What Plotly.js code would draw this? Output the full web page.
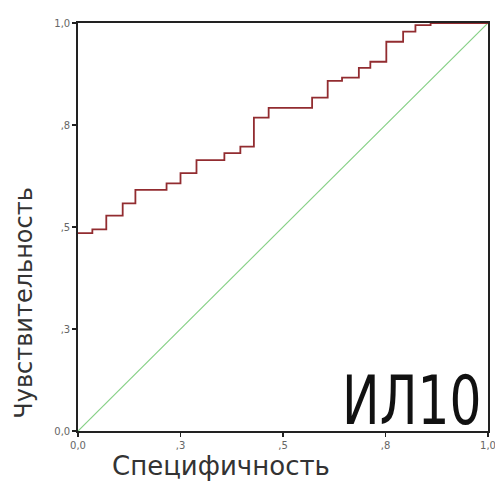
<!DOCTYPE html>
<html>
<head>
<meta charset="utf-8">
<script src="https://cdn.plot.ly/plotly-3.0.1.min.js"></script>
<style>body{margin:0;background:#fff}#chart{width:495px;height:483px}</style>
</head>
<body>
<div id="chart"></div>
<script>
// ROC curve points (1 - specificity, sensitivity)
var rocX = [0, 0.035, 0.069, 0.109, 0.140, 0.216, 0.250, 0.289, 0.357, 0.396, 0.429, 0.465, 0.571, 0.609, 0.644, 0.685, 0.713, 0.752, 0.793, 0.823, 0.860, 1.0];
var rocY = [0.485, 0.494, 0.528, 0.558, 0.591, 0.607, 0.632, 0.664, 0.681, 0.697, 0.768, 0.792, 0.817, 0.858, 0.866, 0.890, 0.905, 0.954, 0.979, 0.995, 1.0, 1.0];
var refX = [0, 1];
var refY = [0, 1];
var tickVals = [0, 0.25, 0.5, 0.75, 1];
var tickText = ['0,0', ',3', ',5', ',8', '1,0'];
var xTitle = 'Специфичность';
var yTitle = 'Чувствительность';
var label = 'ИЛ10';

var traces = [
  {x: refX, y: refY, mode: 'lines', line: {color: '#86d086', width: 1.2}, hoverinfo: 'skip'},
  {x: rocX, y: rocY, mode: 'lines', line: {color: '#922c30', width: 1.8, shape: 'hv'}}
];
var axisCommon = {
  range: [0, 1], tickvals: tickVals, ticktext: tickText,
  showgrid: false, zeroline: false, showline: true, mirror: true,
  linecolor: '#222', linewidth: 1.8, ticks: 'outside', ticklen: 4, tickwidth: 1.5, tickcolor: '#222',
  ticklabeloverflow: 'allow',
  tickfont: {family: 'DejaVu Sans', size: 10, color: '#666'}, fixedrange: true
};
var layout = {
  width: 495, height: 483,
  margin: {l: 78, r: 7, t: 23, b: 52},
  paper_bgcolor: '#fff', plot_bgcolor: '#fff',
  showlegend: false,
  xaxis: Object.assign({}, axisCommon),
  yaxis: Object.assign({}, axisCommon),
  annotations: [
    {xref: 'paper', yref: 'paper', x: 0.348, y: -0.086, text: xTitle, showarrow: false,
     xanchor: 'center', yanchor: 'middle', font: {family: 'DejaVu Sans', size: 26, color: '#333'}},
    {xref: 'paper', yref: 'paper', x: -0.132, y: 0.314, text: yTitle, showarrow: false, textangle: -90,
     xanchor: 'center', yanchor: 'middle', font: {family: 'DejaVu Sans', size: 24, color: '#333'}},
    {xref: 'paper', yref: 'paper', x: 0.99, y: 0.074, text: label, showarrow: false,
     xanchor: 'right', yanchor: 'middle', font: {family: 'DejaVu Sans', size: 68, color: '#111'}}
  ]
};
Plotly.newPlot('chart', traces, layout, {displayModeBar: false, staticPlot: true}).then(function () {
  var texts = document.querySelectorAll('.annotation-text');
  texts.forEach(function (t) {
    if (t.textContent === label) {
      t.style.transformBox = 'fill-box';
      t.style.transformOrigin = 'right center';
      t.style.transform = 'scaleX(0.74)';
    }
  });
});
</script>
</body>
</html>
